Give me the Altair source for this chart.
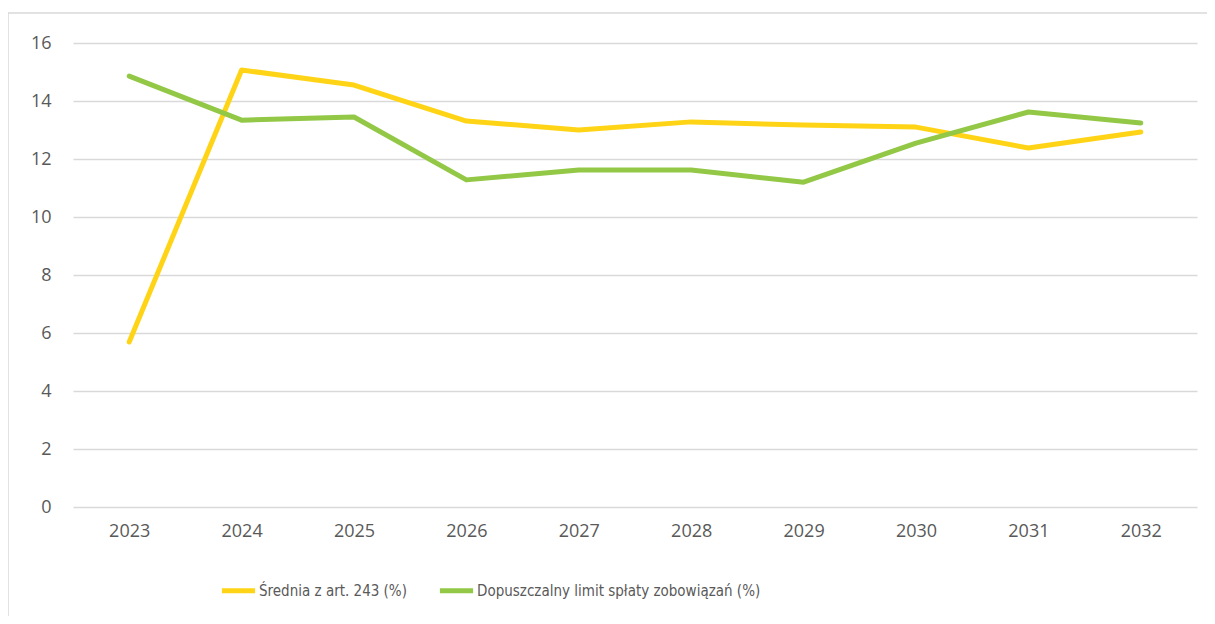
import altair as alt
import pandas as pd

years = ["2023", "2024", "2025", "2026", "2027", "2028", "2029", "2030", "2031", "2032"]
srednia = [5.69, 15.07, 14.55, 13.31, 13.0, 13.28, 13.17, 13.1, 12.38, 12.93]
limit = [14.86, 13.34, 13.45, 11.28, 11.62, 11.62, 11.2, 12.55, 13.62, 13.24]
series_names = ["Średnia z art. 243 (%)", "Dopuszczalny limit spłaty zobowiązań (%)"]
series_colors = ["#FFD416", "#92C846"]
y_ticks = [0, 2, 4, 6, 8, 10, 12, 14, 16]

rows = []
for i, yr in enumerate(years):
    rows.append({"rok": yr, "seria": series_names[0], "wartosc": srednia[i]})
    rows.append({"rok": yr, "seria": series_names[1], "wartosc": limit[i]})
df = pd.DataFrame(rows)

W, H = 1124, 464

border = alt.Chart(pd.DataFrame({"a": [0]})).mark_rect(
    fill=None, stroke="#D9D9D9", strokeWidth=1.5
).encode(
    x=alt.value(-65), x2=alt.value(W + 40),
    y=alt.value(-30), y2=alt.value(H + 200),
)

lines = alt.Chart(df).mark_line(strokeWidth=5, strokeCap="round", strokeJoin="round").encode(
    x=alt.X("rok:O", sort=years, title=None,
            axis=alt.Axis(labelAngle=0, domain=False, ticks=False, grid=False,
                          labelPadding=15, labelFontSize=18, labelColor="#595959",
                          labelFont="Open Sans")),
    y=alt.Y("wartosc:Q", title=None, scale=alt.Scale(domain=[0, 16], nice=False),
            axis=alt.Axis(values=y_ticks, domain=False, ticks=False, grid=True,
                          gridColor="#D9D9D9", gridWidth=1.5, labelPadding=22,
                          labelFontSize=18, labelColor="#595959", labelFont="Open Sans")),
    color=alt.Color("seria:N", sort=series_names,
                    scale=alt.Scale(domain=series_names, range=series_colors),
                    legend=alt.Legend(title=None, orient="none", direction="horizontal",
                                      legendX=146, legendY=528,
                                      symbolType="stroke", symbolSize=1100,
                                      symbolStrokeWidth=5, labelFontSize=15,
                                      labelFont="DejaVu Sans Condensed",
                                      labelColor="#595959", labelOffset=1,
                                      columnPadding=22, labelLimit=400)),
    detail="seria:N",
)

chart = alt.layer(border, lines).properties(
    width=W, height=H,
    padding={"left": 65, "top": 35, "right": 10, "bottom": 109},
    autosize=alt.AutoSizeParams(type="none"),
    background="white",
).configure_view(stroke=None)

chart.save("out.html", embed_options={"renderer": "svg", "actions": False})
